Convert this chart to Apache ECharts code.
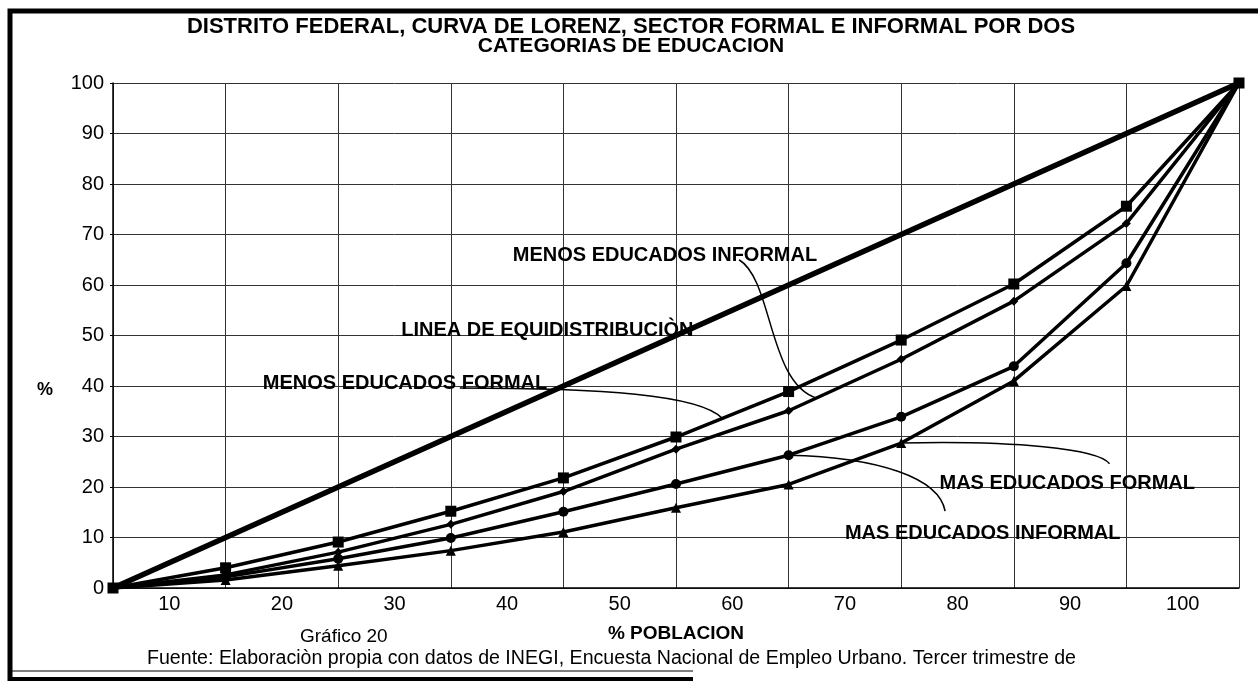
<!DOCTYPE html>
<html>
<head>
<meta charset="utf-8">
<script src="https://cdn.jsdelivr.net/npm/echarts@6/dist/echarts.min.js"></script>
<style>
  html, body { margin: 0; padding: 0; background: #fff; }
  #chart { width: 1258px; height: 681px; }
</style>
</head>
<body>
<div id="chart"></div>
<script>
// % poblacion (puntos en las lineas de la reticula)
var poblacion = [0, 10, 20, 30, 40, 50, 60, 70, 80, 90, 100];
// etiquetas del eje x (entre las lineas)
var xLabels = ['10', '20', '30', '40', '50', '60', '70', '80', '90', '100'];
// curvas de Lorenz (% acumulado)
var equidistribucion = [0, 10, 20, 30, 40, 50, 60, 70, 80, 90, 100];
var menosFormal = [0, 4, 9.1, 15.2, 21.8, 29.9, 38.9, 49.1, 60.2, 75.6, 100];
var menosInformal = [0, 2.6, 7.1, 12.6, 19.1, 27.5, 35.1, 45.3, 56.8, 72.2, 100];
var masInformal = [0, 2.2, 5.8, 9.9, 15.1, 20.6, 26.3, 33.9, 43.9, 64.3, 100];
var masFormal = [0, 1.6, 4.4, 7.4, 11.1, 15.9, 20.5, 28.7, 41, 59.8, 100];

// textos de las curvas, en coordenadas de datos
var rotulos = [
  { text: 'MENOS EDUCADOS INFORMAL', x: 35.5, y: 65.8 },
  { text: 'LINEA DE EQUIDISTRIBUCIÒN', x: 25.6, y: 50.9 },
  { text: 'MENOS EDUCADOS FORMAL', x: 13.3, y: 40.5 },
  { text: 'MAS EDUCADOS FORMAL', x: 73.4, y: 20.7 },
  { text: 'MAS EDUCADOS INFORMAL', x: 65.0, y: 10.7 }
];
// lineas guia (bezier) en coordenadas de datos
var guias = [
  [[55.6, 65.0], [58.6, 61.0], [58.2, 40.5], [62.5, 37.6]],
  [[30.8, 39.6], [43.3, 39.6], [52.1, 38.3], [54.1, 33.6]],
  [[70, 28.7], [80, 29.2], [87.5, 27.6], [88.5, 24.6]],
  [[60, 26.3], [68.0, 25.9], [73.4, 21.8], [73.9, 15.2]]
];

function pares(arr) {
  return arr.map(function (v, i) { return [poblacion[i], v]; });
}

var chart = echarts.init(document.getElementById('chart'));
var font = '"Liberation Sans", Arial, sans-serif';

function serie(name, arr, symbol, size) {
  return {
    name: name, type: 'line', data: pares(arr),
    symbol: symbol, symbolSize: size, showSymbol: true,
    lineStyle: { color: '#000', width: 3.5 },
    itemStyle: { color: '#000' },
    animation: false, z: 3
  };
}

chart.setOption({
  backgroundColor: '#fff',
  animation: false,
  grid: { left: 113, right: 19, top: 83, bottom: 93 },
  xAxis: [{
    type: 'value', min: 0, max: 100, interval: 10,
    axisLine: { show: true, lineStyle: { color: '#000', width: 1.5 } },
    axisTick: { show: false },
    axisLabel: { show: false },
    splitLine: { show: true, lineStyle: { color: '#333', width: 1 } }
  }, {
    type: 'category', data: xLabels, boundaryGap: true, position: 'bottom',
    axisLine: { show: false }, axisTick: { show: false },
    axisLabel: { color: '#000', fontSize: 20, fontFamily: font, margin: 6 },
    splitLine: { show: false }
  }],
  yAxis: {
    type: 'value', min: 0, max: 100, interval: 10,
    axisLine: { show: true, lineStyle: { color: '#000', width: 1.5 } },
    axisTick: { show: true, length: 3, lineStyle: { color: '#000' } },
    axisLabel: { color: '#000', fontSize: 20, fontFamily: font, margin: 9 },
    splitLine: { show: true, lineStyle: { color: '#333', width: 1 } }
  },
  series: [
    {
      name: 'LINEA DE EQUIDISTRIBUCIÒN', type: 'line', data: pares(equidistribucion),
      symbol: 'none', lineStyle: { color: '#000', width: 5.5 }, z: 4
    },
    serie('MENOS EDUCADOS FORMAL', menosFormal, 'rect', 11),
    serie('MENOS EDUCADOS INFORMAL', menosInformal, 'diamond', 9),
    serie('MAS EDUCADOS INFORMAL', masInformal, 'circle', 10),
    serie('MAS EDUCADOS FORMAL', masFormal, 'triangle', 10)
  ]
});

// titulo, rotulos y marco
var g = [
  { type: 'polyline', shape: { points: [[10, 681], [10, 11], [1258, 11]] },
    style: { fill: null, stroke: '#000', lineWidth: 5 }, silent: true },
  { type: 'line', shape: { x1: 10, y1: 671, x2: 693, y2: 671 },
    style: { stroke: '#000', lineWidth: 1.2 }, silent: true },
  { type: 'line', shape: { x1: 10, y1: 679, x2: 693, y2: 679 },
    style: { stroke: '#000', lineWidth: 4 }, silent: true },
  { type: 'text', x: 631, y: 27, style: { text: 'DISTRITO FEDERAL, CURVA DE LORENZ, SECTOR FORMAL E INFORMAL POR DOS',
    font: 'bold 22px ' + font, fill: '#000', align: 'center', verticalAlign: 'middle' } },
  { type: 'text', x: 631, y: 46, style: { text: 'CATEGORIAS DE EDUCACION',
    font: 'bold 21px ' + font, fill: '#000', align: 'center', verticalAlign: 'middle' } },
  { type: 'text', x: 37, y: 390, style: { text: '%', font: 'bold 18px ' + font, fill: '#000', verticalAlign: 'middle' } },
  { type: 'text', x: 676, y: 634, style: { text: '% POBLACION', font: 'bold 19px ' + font, fill: '#000', align: 'center', verticalAlign: 'middle' } },
  { type: 'text', x: 300, y: 637, style: { text: 'Gráfico 20', font: '19px ' + font, fill: '#000', verticalAlign: 'middle' } },
  { type: 'text', x: 147, y: 659, style: { text: 'Fuente: Elaboraciòn propia con datos de INEGI, Encuesta Nacional de Empleo Urbano. Tercer trimestre de',
    font: '19.6px ' + font, fill: '#000', verticalAlign: 'middle' } }
];
rotulos.forEach(function (r) {
  var p = chart.convertToPixel({ gridIndex: 0 }, [r.x, r.y]);
  g.push({ type: 'text', x: p[0], y: p[1], z: 10,
    style: { text: r.text, font: 'bold 20px ' + font, fill: '#000', verticalAlign: 'middle' } });
});
guias.forEach(function (c) {
  var p = c.map(function (d) { return chart.convertToPixel({ gridIndex: 0 }, d); });
  g.push({ type: 'bezierCurve', z: 10, silent: true,
    shape: { x1: p[0][0], y1: p[0][1], cpx1: p[1][0], cpy1: p[1][1], cpx2: p[2][0], cpy2: p[2][1], x2: p[3][0], y2: p[3][1] },
    style: { stroke: '#000', lineWidth: 1.5, fill: null } });
});
chart.setOption({ graphic: g });
</script>
</body>
</html>
